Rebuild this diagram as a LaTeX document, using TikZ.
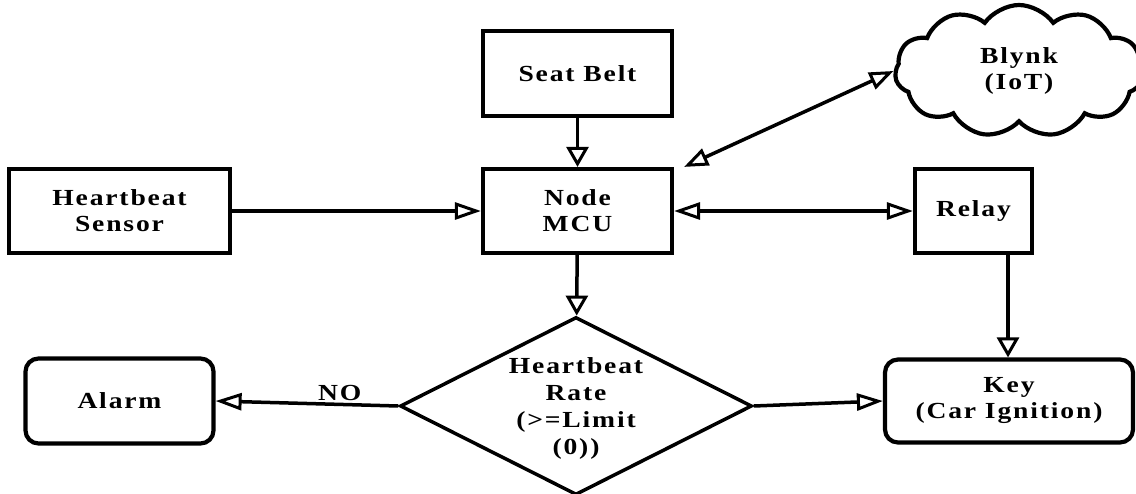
\documentclass[tikz,border=0pt]{standalone}
\usepackage{fontspec}
\newfontfamily\lbl{Liberation Serif}[FakeStretch=1.2,LetterSpace=8]
\usetikzlibrary{shapes.geometric,shapes.symbols,arrows.meta}
\tikzset{
  htip/.tip={Triangle[open,length=26pt,width=17pt,line width=3pt]},
  vtip/.tip={Triangle[open,length=20pt,width=22pt,line width=3pt]},
  dtip/.tip={Triangle[open,length=24pt,width=18pt,line width=3pt]}}
\begin{document}
\begin{tikzpicture}[x=1pt,y=-1pt,
  lbltext/.style={font=\lbl\bfseries\fontsize{23}{26}\selectfont},
  box/.style={draw,line width=4.2pt,minimum width=#1,align=center,inner sep=0pt,lbltext},
  rbox/.style={box=#1,rounded corners=13pt},
  harr/.style={line width=3.5pt,-{htip}},
  varr/.style={line width=3.5pt,-{vtip}},
  hdarr/.style={line width=3.5pt,{htip}-{htip}},
  ddarr/.style={line width=3.5pt,{dtip}-{dtip}}]
\useasboundingbox (0,0) rectangle (1136,493);
\node[box=189pt,minimum height=85pt] (seat) at (577.5,73.5) {Seat Belt};
\node[box=189pt,minimum height=84pt] (mcu) at (577.5,211) {Node\\MCU};
\node[box=221pt,minimum height=84pt] (hb) at (119.5,211) {Heartbeat\\Sensor};
\node[box=117pt,minimum height=84pt] (relay) at (973.5,211) {Relay};
\node[rbox=188pt,minimum height=85pt] (alarm) at (119.5,401) {Alarm};
\node[rbox=248pt,minimum height=83pt] (key) at (1009,401) {Key\\(Car Ignition)};
\node[box=10pt,diamond,aspect=2,minimum width=352pt,minimum height=178pt,line width=3.5pt,font=\lbl\bfseries\fontsize{23}{27}\selectfont,text depth=0pt] (dia) at (576,406) {Heartbeat\\Rate\\(>=Limit\\(0))};
\node[box=248pt,cloud,cloud puffs=11,cloud puff arc=110,cloud ignores aspect,minimum height=132pt] (cloud) at (1019,71) {Blynk\\(IoT)};
\coordinate (mcune) at ([xshift=10pt]mcu.north east);
\draw[varr] (seat) -- (mcu);
\draw[varr] (mcu) -- (dia);
\draw[harr] (hb) -- (mcu);
\draw[hdarr] (mcu) -- (relay);
\draw[ddarr] (mcune) -- (cloud.west);
\draw[varr] ([xshift=-1pt]key.north |- relay.south) -- ([xshift=-1pt]key.north);
\draw[harr] (dia.east) -- (key.west);
\draw[harr] (dia.west) -- node[pos=0.32,above=-1pt,lbltext]{NO} (alarm.east);
\end{tikzpicture}
\end{document}
